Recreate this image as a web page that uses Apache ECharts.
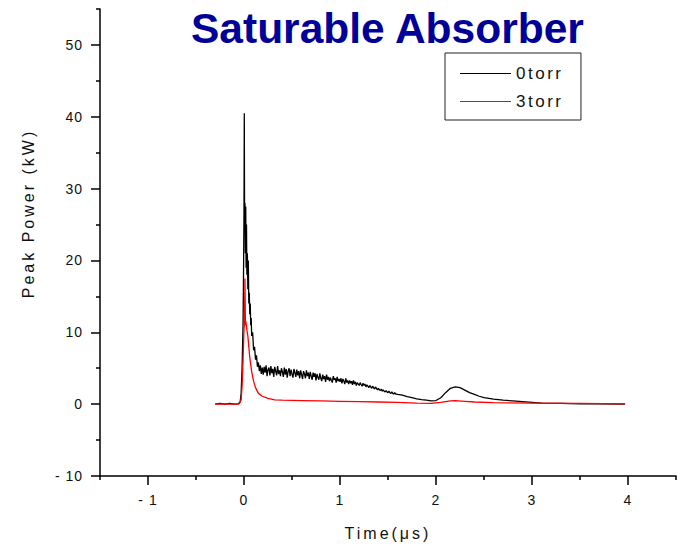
<!DOCTYPE html>
<html>
<head>
<meta charset="utf-8">
<script src="https://cdn.jsdelivr.net/npm/echarts@6/dist/echarts.min.js"></script>
<style>
html,body{margin:0;padding:0;background:#fff;}
#main{width:681px;height:546px;}
</style>
</head>
<body>
<div id="main"></div>
<script>
// ---- data ----
const titleText = 'Saturable Absorber';
const seriesNames = ['0torr', '3torr'];
const xMajorTicks = [-1, 0, 1, 2, 3, 4];
const xMinorTicks = [-1.5, -0.5, 0.5, 1.5, 2.5, 3.5, 4.5];
const yMajorTicks = [-10, 0, 10, 20, 30, 40, 50];
const yMinorTicks = [-5, 5, 15, 25, 35, 45, 55];

// 0 torr (black)
const t0 = [-0.30,-0.25,-0.20,-0.15,-0.10,-0.06,-0.04,-0.03,-0.02,-0.01,-0.005,0.0,0.003,0.006,0.01,0.014,0.018,0.022,0.026,0.03,0.035,0.04,0.045,0.05,0.055,0.06,0.065,0.07,0.075,0.08,0.09,0.10,0.11,0.12,0.13,0.14,0.15,0.16,0.17,0.18,0.19,
  0.20,0.21,0.22,0.23,0.24,0.25,0.26,0.27,0.28,0.29,
  0.30,0.31,0.32,0.33,0.34,0.35,0.36,0.37,0.38,0.39,
  0.40,0.41,0.42,0.43,0.44,0.45,0.46,0.47,0.48,0.49,
  0.50,0.51,0.52,0.53,0.54,0.55,0.56,0.57,0.58,0.59,
  0.60,0.61,0.62,0.63,0.64,0.65,0.66,0.67,0.68,0.69,
  0.70,0.71,0.72,0.73,0.74,0.75,0.76,0.77,0.78,0.79,
  0.80,0.81,0.82,0.83,0.84,0.85,0.86,0.87,0.88,0.89,
  0.90,0.91,0.92,0.93,0.94,0.95,0.96,0.97,0.98,0.99,
  1.00,1.01,1.02,1.03,1.04,1.05,1.06,1.07,1.08,1.09,
  1.10,1.11,1.12,1.13,1.14,1.15,1.16,1.17,1.18,1.19,
  1.20,1.21,1.22,1.23,1.24,1.25,1.26,1.27,1.28,1.29,
  1.30,1.31,1.32,1.33,1.34,1.35,1.36,1.37,1.38,1.39,
  1.40,1.41,1.42,1.43,1.44,1.45,1.46,1.47,1.48,1.49,
  1.50,1.51,1.52,1.53,1.54,1.55,1.56,1.57,1.58,1.59,
  1.60,1.65,1.70,1.75,1.80,1.85,1.90,1.95,2.00,2.05,2.10,2.15,2.20,2.25,2.30,2.35,2.40,2.45,2.50,2.60,2.70,2.80,2.90,3.00,3.10,3.30,3.50,3.70,3.97];
const p0 = [0,0.1,0,0.1,0,0.05,0.3,1.5,5,11,18,27,40.5,26,28,21,27.5,19,25,18,21,16,20,14,15.5,12.5,14,11,12,9.5,10,7.5,8,6.2,6.8,5.2,5.8,4.6,5.4,4.2,5.1,
  4.1,5.2,4.4,5.4,3.9,4.8,5.1,4.0,5.3,4.3,
  4.9,3.8,5.2,4.6,4.0,5.3,4.2,4.7,3.9,5.0,
  4.5,3.8,5.1,4.1,4.9,3.7,4.6,5.0,3.9,4.8,
  4.2,3.7,4.9,4.4,3.8,4.8,4.0,4.6,3.6,4.7,
  4.1,3.5,4.6,4.2,3.6,4.7,3.9,4.4,3.5,4.5,
  3.9,3.4,4.4,3.8,4.3,3.3,4.2,3.7,3.4,4.3,
  3.6,3.2,4.1,3.5,3.9,3.1,4.1,3.4,3.8,3.2,
  3.7,3.3,3.0,3.9,3.4,3.6,3.0,3.8,3.2,3.5,
  3.1,3.6,2.9,3.5,3.2,2.8,3.6,3.0,3.3,2.8,
  3.3,2.9,3.2,2.7,3.3,2.8,3.1,2.6,3.0,2.8,
  2.6,3.0,2.7,2.5,2.9,2.6,2.8,2.4,2.7,2.5,
  2.3,2.6,2.4,2.2,2.5,2.3,2.1,2.4,2.2,2.0,
  2.2,2.0,1.9,2.1,1.8,2.0,1.8,1.7,1.9,1.7,
  1.6,1.8,1.6,1.5,1.7,1.5,1.4,1.6,1.4,1.4,
  1.35,1.25,1.05,0.9,0.75,0.62,0.55,0.45,0.5,0.9,1.6,2.2,2.4,2.3,1.95,1.6,1.35,1.1,0.9,0.7,0.55,0.45,0.35,0.25,0.15,0.1,0.05,0.05,0.0];

// 3 torr (red)
const t3 = [-0.30,-0.20,-0.10,-0.05,-0.03,-0.02,-0.01,0.0,0.005,0.01,0.015,0.02,0.03,0.04,0.05,0.06,0.07,0.08,0.10,0.12,0.15,0.19,0.25,0.32,0.40,0.60,0.80,1.00,1.20,1.40,1.60,1.80,1.95,2.05,2.15,2.20,2.30,2.40,2.60,3.00,3.50,3.97];
const p3 = [0,0.05,0,0.05,0.6,2.5,6,10.5,11.2,17.5,11,11.5,10.3,9.5,8,6.5,5.5,4.5,3.2,2.3,1.5,1.1,0.8,0.6,0.55,0.5,0.45,0.4,0.35,0.3,0.25,0.15,0.12,0.25,0.45,0.5,0.4,0.3,0.2,0.15,0.1,0.05];

const fmt = v => (v < 0 ? '- ' + Math.abs(v) : String(v));
const FONT = 'Liberation Sans, Arial, sans-serif';

const chart = echarts.init(document.getElementById('main'), null, {renderer: 'svg'});
const axisCommon = {type: 'value', splitLine: {show: false}};
chart.setOption({
  animation: false,
  backgroundColor: '#fff',
  title: {
    text: titleText, left: 186, top: 2,
    textStyle: {fontFamily: FONT, fontWeight: 'bold', fontSize: 42.5, color: '#000099'}
  },
  legend: {
    orient: 'vertical', left: 445, top: 53,
    padding: [12, 30, 10, 15],
    itemWidth: 51, itemHeight: 14, itemGap: 11,
    borderColor: '#222', borderWidth: 1,
    icon: 'path://M0,0 L100,0 L100,2 L0,2 Z',
    textStyle: {fontFamily: FONT, fontSize: 17, color: '#111'},
    data: seriesNames
  },
  grid: {left: 100, right: 5, top: 9, bottom: 69, containLabel: false},
  xAxis: [
    Object.assign({}, axisCommon, {
      min: -1.5, max: 4.5, interval: 0.5,
      name: 'Time(μs)', nameLocation: 'middle', nameGap: 49,
      nameTextStyle: {fontFamily: FONT, fontSize: 16, color: '#111'},
      axisLine: {onZero: false, lineStyle: {color: '#000', width: 1.5}},
      axisTick: {length: 9, customValues: xMajorTicks, lineStyle: {color: '#000', width: 1.5}},
      axisLabel: {customValues: xMajorTicks, formatter: fmt, margin: 17, fontFamily: FONT, fontSize: 14, color: '#111'}
    }),
    Object.assign({}, axisCommon, {
      min: -1.5, max: 4.5, interval: 0.5, position: 'bottom',
      axisLine: {show: false, onZero: false},
      axisTick: {length: 4, customValues: xMinorTicks, lineStyle: {color: '#000', width: 1.5}},
      axisLabel: {show: false}
    })
  ],
  yAxis: [
    Object.assign({}, axisCommon, {
      min: -10, max: 55, interval: 5,
      name: 'Peak Power (kW)', nameLocation: 'middle', nameGap: 64, nameRotate: 90,
      nameTextStyle: {fontFamily: FONT, fontSize: 16, color: '#111', padding: [0, 0, 0, 58]},
      axisLine: {onZero: false, lineStyle: {color: '#000', width: 1.5}},
      axisTick: {length: 9, customValues: yMajorTicks, lineStyle: {color: '#000', width: 1.5}},
      axisLabel: {customValues: yMajorTicks, formatter: fmt, margin: 17, fontFamily: FONT, fontSize: 14, color: '#111'}
    }),
    Object.assign({}, axisCommon, {
      min: -10, max: 55, interval: 5, position: 'left',
      axisLine: {show: false, onZero: false},
      axisTick: {length: 4, customValues: yMinorTicks, lineStyle: {color: '#000', width: 1.5}},
      axisLabel: {show: false}
    })
  ],
  series: [
    {
      name: seriesNames[0], type: 'line', xAxisIndex: 0, yAxisIndex: 0,
      symbol: 'none', color: '#000',
      lineStyle: {width: 1.3, color: '#000'},
      data: t0.map((t, i) => [t, p0[i]])
    },
    {
      name: seriesNames[1], type: 'line', xAxisIndex: 0, yAxisIndex: 0,
      symbol: 'none', color: '#ff0000',
      lineStyle: {width: 1.3, color: '#ff0000'},
      data: t3.map((t, i) => [t, p3[i]])
    }
  ]
});

function applySpacing() {
  document.querySelectorAll('#main text').forEach(el => {
    const s = el.textContent || '';
    let ls = '1px';
    if (s.indexOf('Saturable') >= 0) ls = '0px';
    else if (/torr/.test(s)) ls = '2.5px';
    else if (/Power|Time/.test(s)) ls = '3px';
    el.style.letterSpacing = ls;
  });
}
applySpacing();
chart.on('finished', applySpacing);
</script>
</body>
</html>
